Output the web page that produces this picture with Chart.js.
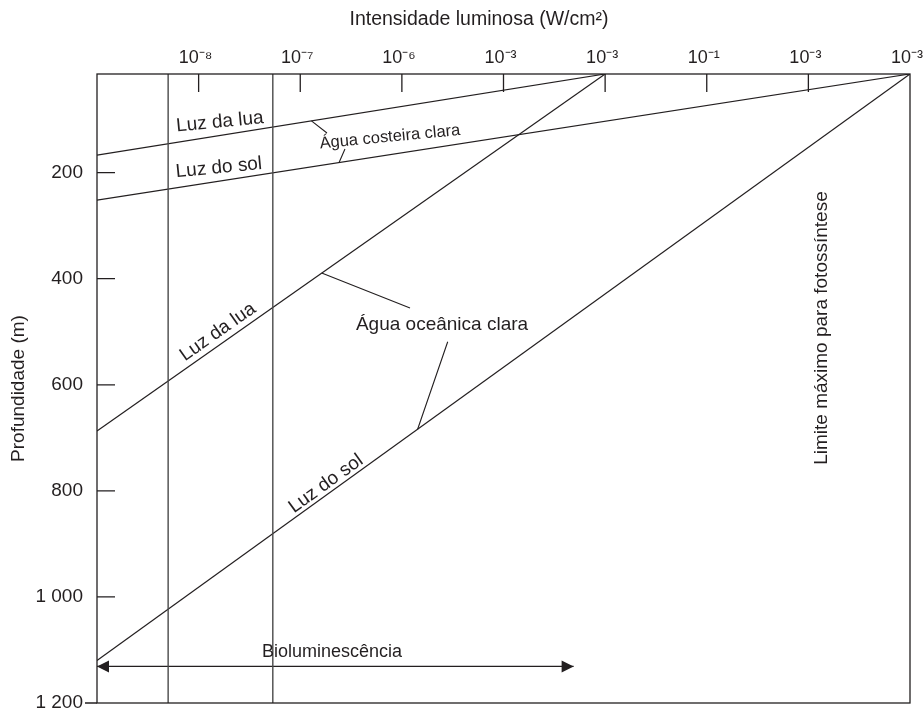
<!DOCTYPE html>
<html lang="pt">
<head>
<meta charset="utf-8">
<title>Intensidade luminosa e profundidade</title>
<script src="https://cdn.jsdelivr.net/npm/chart.js@4.4.1/dist/chart.umd.min.js"></script>
<style>
  html, body { margin: 0; padding: 0; background: #ffffff; }
  #wrap { width: 923px; height: 711px; }
</style>
</head>
<body>
<div id="wrap"><canvas id="chart" width="923" height="711"></canvas></div>
<script>
// Intensity axis: one position per decade, 0 = left edge of the plot
const intensityTickLabels = ['10⁻⁸', '10⁻⁷', '10⁻⁶', '10⁻³', '10⁻³', '10⁻¹', '10⁻³', '10⁻³'];
const intensityRange = [0, 8];
const depthTicks = [200, 400, 600, 800, 1000, 1200];
const depthRange = [14, 1200];

// Attenuation lines as [intensity position, depth in m]
const coastalMoonlight = [[0, 167], [5, 14]];
const coastalSunlight = [[0, 252], [8, 14]];
const oceanicMoonlight = [[0, 687], [5, 14]];
const oceanicSunlight = [[0, 1120], [8, 14]];

// Bioluminescence limits and range
const bioluminescenceLow = [[0.70, 14], [0.70, 1200]];
const bioluminescenceHigh = [[1.73, 14], [1.73, 1200]];
const bioluminescenceRange = [[0, 1131], [4.69, 1131]];

const INK = '#231f20';
const FONT = "'Liberation Sans', Arial, Helvetica, sans-serif";
Chart.defaults.font.family = FONT;
Chart.defaults.color = INK;

const toPoints = pairs => pairs.map(([x, y]) => ({ x, y }));
const formatDepth = v => v >= 1000 ? String(v).replace(/(\d)(\d{3})$/, '$1 $2') : String(v);

function line(label, pairs, color, width) {
  return {
    label, data: toPoints(pairs), showLine: true, fill: false,
    borderColor: color, borderWidth: width, pointRadius: 0, pointHoverRadius: 0
  };
}

// fixed box size for a scale, without the extra padding reserved for edge labels
function fixedBox(size) {
  return s => {
    if (s.isHorizontal()) s.height = size; else s.width = size;
    s.paddingLeft = s.paddingRight = s.paddingTop = s.paddingBottom = 0;
  };
}

// Plot frame, inward tick marks and the bottom line run-out at 1 200 m
const frameAndTicks = {
  id: 'frameAndTicks',
  afterDatasetsDraw(chart, args, opts) {
    const { ctx, chartArea: a, scales: { x, y } } = chart;
    ctx.save();
    ctx.strokeStyle = opts.color;
    ctx.lineWidth = opts.width;
    ctx.strokeRect(a.left, a.top, a.right - a.left, a.bottom - a.top);
    ctx.beginPath();
    x.ticks.forEach(t => {
      const px = x.getPixelForValue(t.value);
      if (px < a.right - 1) { ctx.moveTo(px, a.top); ctx.lineTo(px, a.top + opts.tickLength); }
    });
    y.ticks.forEach(t => {
      const py = y.getPixelForValue(t.value);
      if (py < a.bottom - 1) { ctx.moveTo(a.left, py); ctx.lineTo(a.left + opts.tickLength, py); }
      else { ctx.moveTo(a.left - opts.outerTick, py); ctx.lineTo(a.left, py); }
    });
    ctx.stroke();
    ctx.restore();
  }
};

// Line labels, leader lines and the double arrow of the bioluminescence range
const annotations = {
  id: 'annotations',
  afterDatasetsDraw(chart, args, opts) {
    const { ctx, scales: { x, y } } = chart;
    const px = v => x.getPixelForValue(v);
    const py = v => y.getPixelForValue(v);
    const metaOf = label => chart.getDatasetMeta(chart.data.datasets.findIndex(d => d.label === label));
    ctx.save();
    ctx.strokeStyle = INK;
    ctx.fillStyle = INK;
    ctx.lineWidth = 1.1;

    // leaders
    ctx.beginPath();
    opts.leaders.forEach(([[x0, y0], [x1, y1]]) => {
      ctx.moveTo(px(x0), py(y0));
      ctx.lineTo(px(x1), py(y1));
    });
    ctx.stroke();

    // arrowheads at both ends of the range line
    const arrow = metaOf(opts.arrowSeries).data;
    const head = (tipX, tipY, dir) => {
      ctx.beginPath();
      ctx.moveTo(tipX, tipY);
      ctx.lineTo(tipX - dir * opts.headLength, tipY - opts.headHalf);
      ctx.lineTo(tipX - dir * opts.headLength, tipY + opts.headHalf);
      ctx.closePath();
      ctx.fill();
    };
    head(arrow[0].x, arrow[0].y, -1);
    head(arrow[arrow.length - 1].x, arrow[arrow.length - 1].y, 1);

    // texts
    ctx.textAlign = 'center';
    ctx.textBaseline = 'middle';
    opts.labels.forEach(l => {
      let angle = (l.rotate || 0) * Math.PI / 180;
      if (l.along) {
        const d = metaOf(l.along).data;
        angle = Math.atan2(d[1].y - d[0].y, d[1].x - d[0].x);
      }
      ctx.save();
      ctx.translate(px(l.at[0]), py(l.at[1]));
      ctx.rotate(angle);
      ctx.font = `${l.size || 19}px ${FONT}`;
      ctx.fillText(l.text, 0, 0);
      ctx.restore();
    });
    ctx.restore();
  }
};

new Chart(document.getElementById('chart'), {
  type: 'scatter',
  data: {
    datasets: [
      line('Limite inferior', bioluminescenceLow, '#4a4a4a', 1.4),
      line('Limite superior', bioluminescenceHigh, '#4a4a4a', 1.4),
      line('Luz da lua (costeira)', coastalMoonlight, INK, 1.2),
      line('Luz do sol (costeira)', coastalSunlight, INK, 1.2),
      line('Luz da lua (oceânica)', oceanicMoonlight, INK, 1.2),
      line('Luz do sol (oceânica)', oceanicSunlight, INK, 1.2),
      line('Bioluminescência', bioluminescenceRange, INK, 1.4)
    ]
  },
  options: {
    responsive: false,
    animation: false,
    events: [],
    layout: { padding: { left: 35, right: 0, top: 0, bottom: 8 }, autoPadding: false },
    scales: {
      x: {
        type: 'linear', position: 'top',
        min: intensityRange[0], max: intensityRange[1],
        grid: { display: false, drawTicks: false },
        border: { display: false },
        afterBuildTicks: s => { s.ticks = intensityTickLabels.map((_, i) => ({ value: i + 1 })); },
        afterFit: fixedBox(42.6),
        ticks: {
          padding: 5, labelOffset: -3, maxRotation: 0, autoSkip: false,
          font: { size: 18 }, color: INK,
          callback: v => intensityTickLabels[v - 1] || ''
        }
      },
      y: {
        type: 'linear', position: 'left', reverse: true,
        min: depthRange[0], max: depthRange[1],
        grid: { display: false, drawTicks: false },
        border: { display: false },
        afterBuildTicks: s => { s.ticks = depthTicks.map(v => ({ value: v })); },
        afterFit: fixedBox(62),
        ticks: { padding: 14, font: { size: 19 }, color: INK, callback: v => formatDepth(v) },
        title: {
          display: true, text: 'Profundidade (m)', color: INK,
          font: { size: 19 }, padding: { top: -27.4, bottom: 0 }
        }
      },
      // empty right-hand margin column
      margin: {
        type: 'linear', position: 'right', display: true,
        grid: { display: false, drawTicks: false },
        border: { display: false },
        ticks: { display: false },
        afterFit: fixedBox(13)
      }
    },
    plugins: {
      legend: { display: false },
      tooltip: { enabled: false },
      title: {
        display: true, text: 'Intensidade luminosa (W/cm²)', color: INK,
        font: { size: 19.5, weight: 'normal' }, padding: { top: 8, bottom: 0 }
      },
      frameAndTicks: { color: INK, width: 1.3, tickLength: 18, outerTick: 12 },
      annotations: {
        arrowSeries: 'Bioluminescência',
        headLength: 12, headHalf: 6,
        leaders: [
          [[2.11, 102.4], [2.263, 125.2]],
          [[2.381, 181.2], [2.44, 155.4]],
          [[2.211, 389.4], [3.08, 455.2]],
          [[3.155, 683.8], [3.451, 518.8]]
        ],
        labels: [
          { text: 'Luz da lua', at: [1.21, 104.5], rotate: -5.5 },
          { text: 'Luz do sol', at: [1.20, 191], rotate: -5.5 },
          { text: 'Água costeira clara', at: [2.883, 133], rotate: -5.5, size: 16.5 },
          { text: 'Luz da lua', at: [1.19, 500.5], along: 'Luz da lua (oceânica)' },
          { text: 'Luz do sol', at: [2.253, 787], along: 'Luz do sol (oceânica)' },
          { text: 'Água oceânica clara', at: [3.395, 487] },
          { text: 'Limite máximo para fotossíntese', at: [7.134, 493], rotate: -90 },
          { text: 'Bioluminescência', at: [2.312, 1104], size: 18 }
        ]
      }
    }
  },
  plugins: [frameAndTicks, annotations]
});
</script>
</body>
</html>
